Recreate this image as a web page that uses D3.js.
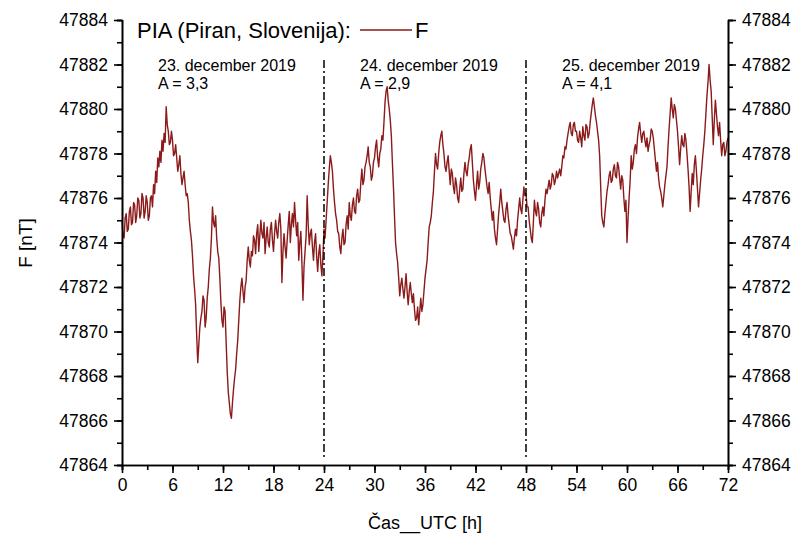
<!DOCTYPE html>
<html>
<head>
<meta charset="utf-8">
<script src="https://cdn.jsdelivr.net/npm/d3@7"></script>
<style>
  body { margin: 0; background: #fff; }
  text { font-family: "Liberation Sans", Arial, sans-serif; fill: #000; }
</style>
</head>
<body>
<svg id="chart" width="794" height="534"></svg>
<script>
// vrednosti F [nT], vsakih 0.125 h od 0 do 72 h (ena vrstica = ena ura)
const step = 0.125;
const F = [
  47875.0, 47874.3, 47874.2, 47875.1, 47875.3, 47874.5, 47874.6, 47875.4, // 0
  47875.6, 47874.8, 47874.9, 47875.8, 47875.7, 47874.9, 47875.2, 47876.0,
  47875.9, 47875.1, 47875.3, 47876.2, 47876.0, 47875.1, 47875.4, 47876.1,
  47875.8, 47875.0, 47875.2, 47876.0, 47876.1, 47875.6, 47876.6, 47876.2,
  47877.2, 47876.7, 47877.8, 47877.4, 47878.1, 47877.6, 47878.6, 47878.1,
  47878.9, 47878.5, 47880.1, 47879.3, 47879.0, 47878.4, 47878.5, 47879.0, // 5
  47878.6, 47877.9, 47878.0, 47878.4, 47877.8, 47877.2, 47877.5, 47877.9,
  47877.1, 47876.6, 47876.9, 47877.2, 47876.6, 47876.1, 47876.2, 47875.8,
  47875.0, 47874.5, 47874.1, 47873.4, 47872.5, 47871.9, 47871.2, 47869.8,
  47868.6, 47869.4, 47870.2, 47870.6, 47870.9, 47871.6, 47871.4, 47870.2,
  47870.6, 47871.5, 47872.0, 47872.8, 47873.3, 47874.2, 47875.6, 47874.9, // 10
  47874.7, 47875.2, 47874.2, 47873.6, 47873.3, 47872.4, 47871.3, 47870.5,
  47870.2, 47871.1, 47870.9, 47869.5, 47868.2, 47867.3, 47866.8, 47866.3,
  47866.1, 47866.8, 47867.4, 47867.9, 47868.3, 47869.0, 47869.6, 47870.5,
  47871.4, 47872.0, 47872.4, 47871.8, 47871.3, 47872.0, 47872.3, 47873.2,
  47873.8, 47873.2, 47872.9, 47873.6, 47873.4, 47874.3, 47874.1, 47873.5, // 15
  47874.4, 47874.8, 47873.6, 47874.3, 47875.0, 47874.4, 47874.2, 47874.9,
  47873.5, 47874.2, 47874.7, 47874.0, 47873.8, 47874.6, 47874.9, 47874.1,
  47873.6, 47874.4, 47875.0, 47874.5, 47874.2, 47874.9, 47875.3, 47874.6,
  47872.2, 47873.6, 47874.4, 47873.8, 47873.3, 47874.1, 47874.8, 47875.4,
  47874.0, 47874.8, 47875.3, 47874.7, 47875.8, 47875.0, 47874.3, 47874.9, // 20
  47873.2, 47874.0, 47874.5, 47873.1, 47871.4, 47872.9, 47873.6, 47874.3,
  47876.1, 47874.8, 47873.9, 47874.4, 47874.6, 47873.8, 47873.2, 47874.0,
  47874.4, 47873.4, 47872.7, 47873.5, 47873.9, 47873.0, 47872.5, 47873.4,
  47874.6, 47874.2, 47875.0, 47875.8, 47876.6, 47877.3, 47877.9, 47877.6,
  47877.2, 47876.4, 47875.8, 47875.3, 47875.0, 47874.5, 47874.4, 47873.8, // 25
  47873.5, 47874.2, 47874.6, 47873.9, 47874.0, 47874.8, 47875.2, 47874.6,
  47875.8, 47875.2, 47875.0, 47875.7, 47876.0, 47875.4, 47875.3, 47876.1,
  47876.4, 47875.8, 47875.9, 47876.7, 47877.3, 47876.6, 47876.8, 47877.4,
  47877.6, 47877.9, 47878.3, 47877.6, 47877.4, 47876.8, 47877.0, 47877.6,
  47877.8, 47878.3, 47878.6, 47877.8, 47877.4, 47878.0, 47878.2, 47878.8, // 30
  47878.6, 47879.4, 47880.3, 47880.8, 47881.0, 47880.4, 47880.0, 47879.5,
  47878.8, 47877.6, 47876.5, 47875.2, 47874.0, 47873.5, 47873.1, 47872.4,
  47871.6, 47872.1, 47872.4, 47871.9, 47871.5, 47872.0, 47872.6, 47871.8,
  47871.2, 47871.8, 47872.2, 47871.7, 47871.3, 47871.7, 47871.0, 47870.5,
  47870.6, 47871.1, 47870.3, 47870.9, 47871.5, 47870.9, 47871.2, 47871.8, // 35
  47872.4, 47872.8, 47873.2, 47874.0, 47874.7, 47874.9, 47875.2, 47875.8,
  47876.3, 47877.2, 47878.0, 47877.5, 47877.3, 47878.0, 47878.5, 47878.8,
  47879.0, 47878.4, 47878.0, 47877.4, 47877.2, 47877.6, 47877.9, 47877.2,
  47876.6, 47877.3, 47877.1, 47876.5, 47876.2, 47876.9, 47876.6, 47876.0,
  47875.8, 47876.4, 47876.9, 47876.3, 47876.4, 47877.1, 47877.6, 47877.2, // 40
  47877.0, 47877.5, 47877.8, 47878.2, 47878.4, 47877.6, 47876.8, 47876.3,
  47875.9, 47876.6, 47877.2, 47876.4, 47876.7, 47877.3, 47877.6, 47878.0,
  47877.8, 47877.3, 47876.9, 47876.5, 47876.2, 47876.7, 47876.0, 47875.5,
  47875.0, 47875.4, 47874.6, 47874.2, 47873.9, 47874.6, 47875.3, 47875.8,
  47876.4, 47875.8, 47875.4, 47875.0, 47874.9, 47875.5, 47875.8, 47875.2, // 45
  47874.8, 47874.4, 47874.3, 47874.0, 47873.7, 47874.2, 47874.6, 47874.3,
  47875.0, 47875.5, 47876.0, 47875.5, 47875.3, 47875.9, 47876.5, 47876.1,
  47876.2, 47875.6, 47875.6, 47875.0, 47874.6, 47874.2, 47874.0, 47874.9,
  47875.9, 47875.4, 47875.2, 47875.8, 47875.5, 47874.9, 47874.7, 47875.3,
  47875.6, 47875.2, 47875.9, 47876.4, 47876.2, 47876.5, 47876.8, 47876.4, // 50
  47876.6, 47877.1, 47877.0, 47876.6, 47876.8, 47877.2, 47876.9, 47877.1,
  47877.3, 47877.0, 47877.4, 47877.9, 47877.8, 47878.3, 47878.2, 47878.6,
  47878.9, 47879.2, 47879.4, 47878.9, 47878.8, 47879.3, 47879.4, 47879.0,
  47879.0, 47878.6, 47878.5, 47879.0, 47878.7, 47878.3, 47879.2, 47878.8,
  47878.6, 47879.3, 47879.2, 47878.7, 47878.9, 47879.4, 47879.8, 47880.2, // 55
  47880.5, 47880.1, 47879.7, 47879.4, 47879.0, 47878.6, 47877.9, 47876.5,
  47875.2, 47874.9, 47874.7, 47875.3, 47875.8, 47876.3, 47876.6, 47877.0,
  47877.2, 47876.7, 47876.8, 47877.3, 47877.5, 47877.0, 47876.9, 47877.6,
  47877.4, 47876.9, 47876.4, 47877.0, 47876.8, 47876.0, 47875.4, 47875.9,
  47874.0, 47875.1, 47876.0, 47876.8, 47877.9, 47877.3, 47877.6, 47878.2, // 60
  47878.4, 47878.0, 47878.7, 47879.1, 47879.4, 47878.9, 47878.5, 47878.9,
  47879.0, 47878.6, 47878.3, 47878.7, 47878.1, 47878.4, 47878.6, 47879.1,
  47879.0, 47878.7, 47878.2, 47877.7, 47877.2, 47877.6, 47876.9, 47876.5,
  47876.3, 47876.0, 47875.6, 47876.1, 47876.6, 47877.0, 47877.4, 47878.3,
  47879.1, 47879.8, 47880.5, 47880.0, 47879.6, 47880.2, 47880.0, 47879.5, // 65
  47879.0, 47878.3, 47877.5, 47878.2, 47878.8, 47878.4, 47878.3, 47878.9,
  47878.6, 47878.0, 47877.3, 47876.5, 47875.4, 47876.3, 47877.1, 47876.6,
  47877.5, 47877.9, 47877.2, 47876.4, 47875.6, 47876.2, 47876.8, 47877.3,
  47877.9, 47878.4, 47879.0, 47879.8, 47880.6, 47881.2, 47882.0, 47881.3,
  47880.8, 47879.6, 47878.4, 47879.5, 47880.4, 47879.8, 47879.2, 47878.8, // 70
  47879.4, 47878.6, 47877.9, 47878.4, 47878.5, 47877.9, 47878.1, 47878.5,
  47878.7
];

const xTicks = [0, 6, 12, 18, 24, 30, 36, 42, 48, 54, 60, 66, 72];
const yTicks = [47864, 47866, 47868, 47870, 47872, 47874, 47876, 47878, 47880, 47882, 47884];
const dayBreaks = [24, 48];
const dayStart = [0, 24, 48];
const dayLabels = ["23. december 2019", "24. december 2019", "25. december 2019"];
const dayA = ["A = 3,3", "A = 2,9", "A = 4,1"];

const svg = d3.select("#chart");
const mLeft = 122, mRight = 728, mTop = 20, mBottom = 465;
const lineColor = "#8b1a1a";

const x = d3.scaleLinear().domain([0, 72]).range([mLeft, mRight]);
const y = d3.scaleLinear().domain([47864, 47884]).range([mBottom, mTop]);

const data = F.map((v, i) => ({ h: i * step, v: v }));

// krivulja
svg.append("path")
  .datum(data)
  .attr("fill", "none")
  .attr("stroke", lineColor)
  .attr("stroke-width", 1.4)
  .attr("stroke-linejoin", "round")
  .attr("d", d3.line().x(d => x(d.h)).y(d => y(d.v)));

// meje med dnevi
svg.append("g").selectAll("line")
  .data(dayBreaks)
  .enter().append("line")
  .attr("x1", d => x(d)).attr("x2", d => x(d))
  .attr("y1", 60).attr("y2", 457)
  .attr("stroke", "#000")
  .attr("stroke-width", 1.5)
  .attr("stroke-dasharray", "8,3,2,3");

// osi
const fmt = d3.format("d");
function styleAxis(g) {
  g.selectAll(".domain").attr("stroke", "#000").attr("stroke-width", 1.6);
  g.selectAll(".tick line").attr("stroke", "#000").attr("stroke-width", 1.6);
  g.selectAll("text").style("font-size", "17.5px").style("font-family", "Liberation Sans, Arial, sans-serif");
}

const xMinor = d3.range(0, 73, 3);
const yMinor = d3.range(47864, 47885, 1);

svg.append("g")
  .attr("transform", `translate(0,${mBottom})`)
  .call(d3.axisBottom(x).tickValues(xMinor).tickSize(5).tickFormat(""))
  .call(styleAxis);
svg.append("g")
  .attr("transform", `translate(0,${mBottom})`)
  .call(d3.axisBottom(x).tickValues(xTicks).tickSize(8).tickSizeOuter(0).tickPadding(6).tickFormat(fmt))
  .call(styleAxis);

svg.append("g")
  .attr("transform", `translate(${mLeft},0)`)
  .call(d3.axisLeft(y).tickValues(yMinor).tickSize(5).tickFormat(""))
  .call(styleAxis);
svg.append("g")
  .attr("transform", `translate(${mLeft},0)`)
  .call(d3.axisLeft(y).tickValues(yTicks).tickSize(8).tickSizeOuter(0).tickPadding(6).tickFormat(fmt))
  .call(styleAxis);

svg.append("g")
  .attr("transform", `translate(${mRight},0)`)
  .call(d3.axisRight(y).tickValues(yMinor).tickSize(5).tickFormat(""))
  .call(styleAxis);
svg.append("g")
  .attr("transform", `translate(${mRight},0)`)
  .call(d3.axisRight(y).tickValues(yTicks).tickSize(8).tickSizeOuter(0).tickPadding(6).tickFormat(fmt))
  .call(styleAxis);

// naslovi osi
svg.append("text")
  .attr("x", (mLeft + mRight) / 2).attr("y", 529)
  .attr("text-anchor", "middle")
  .style("font-size", "18px")
  .text("Čas__UTC [h]");

svg.append("text")
  .attr("transform", "translate(32,243) rotate(-90)")
  .attr("text-anchor", "middle")
  .style("font-size", "19px")
  .text("F [nT]");

// legenda
svg.append("text")
  .attr("x", 137).attr("y", 38)
  .style("font-size", "22px")
  .text("PIA (Piran, Slovenija):");
svg.append("line")
  .attr("x1", 360).attr("x2", 412).attr("y1", 30).attr("y2", 30)
  .attr("stroke", lineColor).attr("stroke-width", 1.5);
svg.append("text")
  .attr("x", 415).attr("y", 38)
  .style("font-size", "22px")
  .text("F");

// oznake dni
const days = svg.append("g").selectAll("g")
  .data(dayStart)
  .enter().append("g");
days.append("text")
  .attr("x", d => x(d) + 36).attr("y", 71)
  .style("font-size", "16px")
  .text((d, i) => dayLabels[i]);
days.append("text")
  .attr("x", d => x(d) + 36).attr("y", 89)
  .style("font-size", "16px")
  .text((d, i) => dayA[i]);
</script>
</body>
</html>
